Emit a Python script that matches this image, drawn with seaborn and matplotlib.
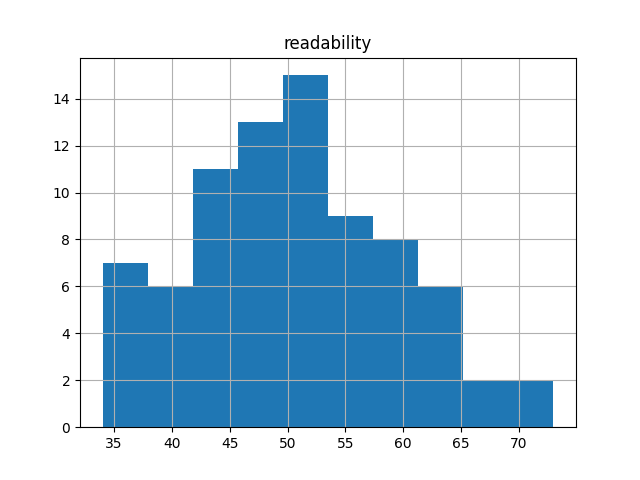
import numpy as np
import pandas as pd
import matplotlib
matplotlib.use("Agg")
import matplotlib.pyplot as plt
import seaborn as sns

# readability histogram (10 bins)
read_min = 34.0
read_max = 73.0
counts = [7, 6, 11, 13, 15, 9, 8, 6, 2, 2]

edges = np.linspace(read_min, read_max, len(counts) + 1)
centers = (edges[:-1] + edges[1:]) / 2
df = pd.DataFrame({"readability": centers, "n": counts})

fig, ax = plt.subplots(figsize=(6.4, 4.8), dpi=100)
sns.histplot(data=df, x="readability", weights="n", bins=list(edges), ax=ax,
             color="#1f77b4", alpha=1, linewidth=0)
ax.grid(True)
ax.set_title("readability")
ax.set_xlabel("")
ax.set_ylabel("")
plt.savefig("out.png")
